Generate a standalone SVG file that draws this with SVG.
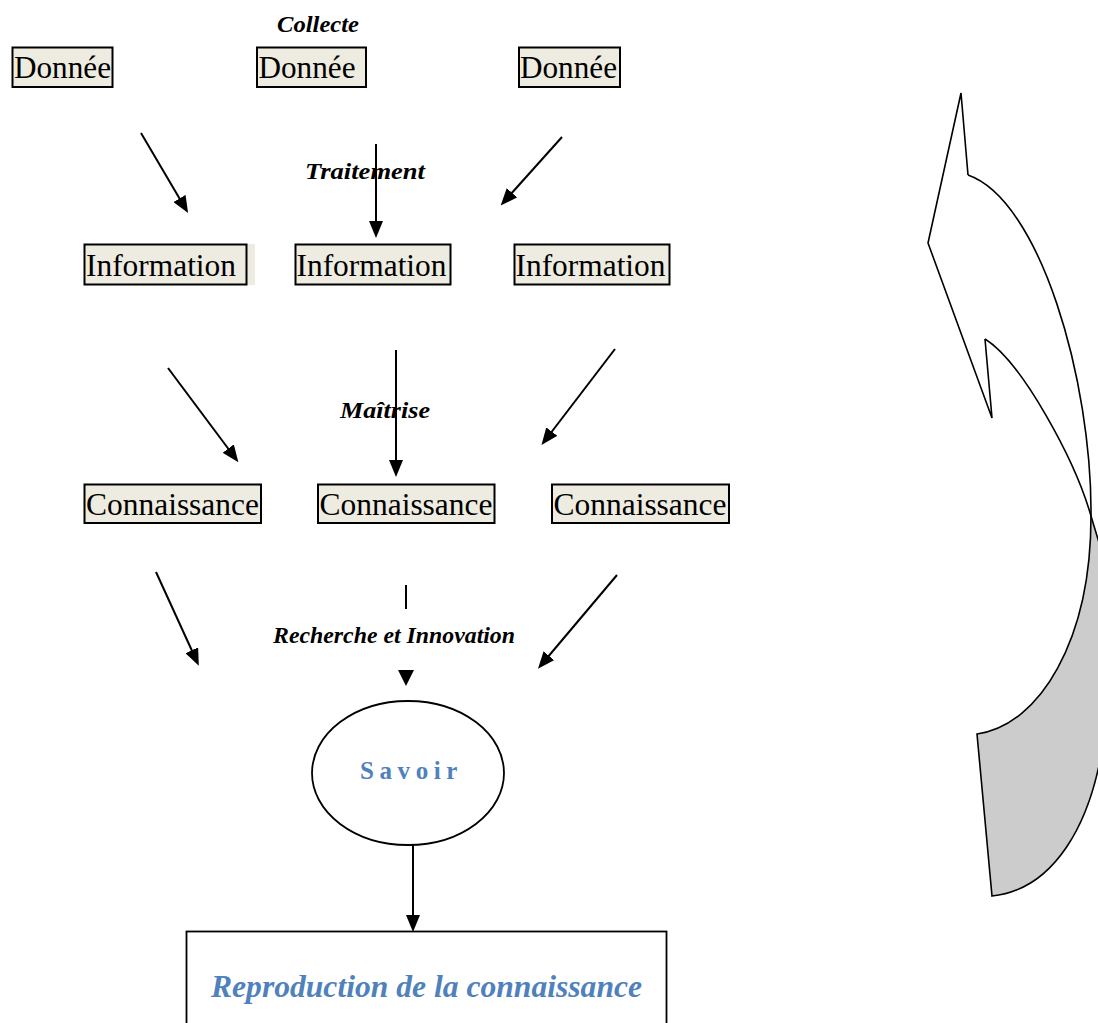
<svg xmlns="http://www.w3.org/2000/svg" width="1098" height="1023" viewBox="0 0 1098 1023">
<style>
.box{fill:#eeece1;stroke:#000;stroke-width:2}
.bt{font-family:"Liberation Serif","Times New Roman",serif;font-size:31px;fill:#000}
.lbl{font-family:"Liberation Serif","Times New Roman",serif;font-size:24px;font-weight:bold;font-style:italic;fill:#000}
.con line{stroke:#000;stroke-width:2;marker-end:url(#ah)}
.blue{fill:#4f81bd;font-family:"Liberation Serif","Times New Roman",serif;font-weight:bold}
</style>
<defs>
<marker id="ah" markerUnits="userSpaceOnUse" markerWidth="17" markerHeight="14" refX="3" refY="7" orient="auto">
<path d="M0,0 L17,7 L0,14 Z" fill="#000"/>
</marker>
</defs>
<rect width="1098" height="1023" fill="#fff"/>

<text class="lbl" x="277" y="32" textLength="82" lengthAdjust="spacingAndGlyphs">Collecte</text>
<text class="lbl" x="305" y="179" textLength="120" lengthAdjust="spacingAndGlyphs">Traitement</text>
<text class="lbl" x="340" y="418" textLength="90" lengthAdjust="spacingAndGlyphs">Maîtrise</text>
<text class="lbl" x="273" y="643" font-size="22" textLength="242" lengthAdjust="spacingAndGlyphs">Recherche et Innovation</text>

<g id="donnee1"><rect class="box" x="12.5" y="47.5" width="100" height="39.5"/><text class="bt" x="14" y="78" textLength="97" lengthAdjust="spacingAndGlyphs">Donnée</text></g>
<g id="donnee2"><rect class="box" x="257" y="47.5" width="109" height="39.5"/><text class="bt" x="258.5" y="78" textLength="97" lengthAdjust="spacingAndGlyphs">Donnée</text></g>
<g id="donnee3"><rect class="box" x="519" y="47.5" width="101" height="39.5"/><text class="bt" x="520" y="78" textLength="97" lengthAdjust="spacingAndGlyphs">Donnée</text></g>

<g id="info1"><rect x="246" y="244" width="9" height="41" fill="#eeece1"/><rect class="box" x="84.5" y="244.5" width="162" height="40"/><text class="bt" x="86" y="276" textLength="150" lengthAdjust="spacingAndGlyphs">Information</text></g>
<g id="info2"><rect class="box" x="295.5" y="244.5" width="155" height="40"/><text class="bt" x="296.5" y="276" textLength="150" lengthAdjust="spacingAndGlyphs">Information</text></g>
<g id="info3"><rect class="box" x="514.5" y="244.5" width="155" height="40"/><text class="bt" x="515.5" y="276" textLength="150" lengthAdjust="spacingAndGlyphs">Information</text></g>

<g id="conn1"><rect class="box" x="84.5" y="484.5" width="176.5" height="38.5"/><text class="bt" x="86" y="515" textLength="173" lengthAdjust="spacingAndGlyphs">Connaissance</text></g>
<g id="conn2"><rect class="box" x="318" y="484.5" width="176.5" height="38.5"/><text class="bt" x="319.5" y="515" textLength="173" lengthAdjust="spacingAndGlyphs">Connaissance</text></g>
<g id="conn3"><rect class="box" x="552" y="484.5" width="177" height="38.5"/><text class="bt" x="553.5" y="515" textLength="173" lengthAdjust="spacingAndGlyphs">Connaissance</text></g>

<g id="savoir"><ellipse cx="408" cy="773" rx="96" ry="72" fill="#fff" stroke="#000" stroke-width="1.8"/><text class="blue" x="360" y="779" font-size="25" letter-spacing="5.6">Savoir</text></g>

<g id="reproduction"><rect x="186.5" y="931.5" width="480" height="110" fill="#fff" stroke="#000" stroke-width="1.8"/><text class="blue" x="211" y="997" font-size="32" font-style="italic" textLength="431" lengthAdjust="spacingAndGlyphs">Reproduction de la connaissance</text></g>

<g id="curved-arrow">
<path d="M1091,516 C1091,640 1040,725 977,734 L992,896 C1050,890 1095,830 1106,720 L1106,548 L1099,544 Z" fill="#cccccc"/>
<path d="M968,175 L961,93 L928,243 L992,418 L985,339" fill="none" stroke="#000" stroke-width="1.6" stroke-linejoin="miter"/>
<path d="M968,175 C1040,200 1092,380 1091,516 C1091,640 1040,725 977,734 L992,896 C1050,890 1095,830 1106,720" fill="none" stroke="#000" stroke-width="1.6"/>
<path d="M985,339 C1022,362 1075,460 1091,516 L1100,546" fill="none" stroke="#000" stroke-width="1.6"/>
</g>

<g id="connectors" class="con">
<line x1="141" y1="133" x2="181" y2="201"/>
<line x1="376" y1="144" x2="376" y2="224"/>
<line x1="562" y1="137" x2="510" y2="195"/>
<line x1="168" y1="368" x2="230" y2="451"/>
<line x1="396" y1="350" x2="396" y2="463"/>
<line x1="615" y1="349" x2="550" y2="434"/>
<line x1="156" y1="572" x2="193" y2="653"/>
<line x1="617" y1="575" x2="547" y2="658"/>
<line x1="413" y1="845" x2="413" y2="918"/>
<line x1="406" y1="585" x2="406" y2="609" style="marker-end:none"/>
<polygon points="398,670 414,670 406,686" fill="#000"/>
</g>
</svg>
